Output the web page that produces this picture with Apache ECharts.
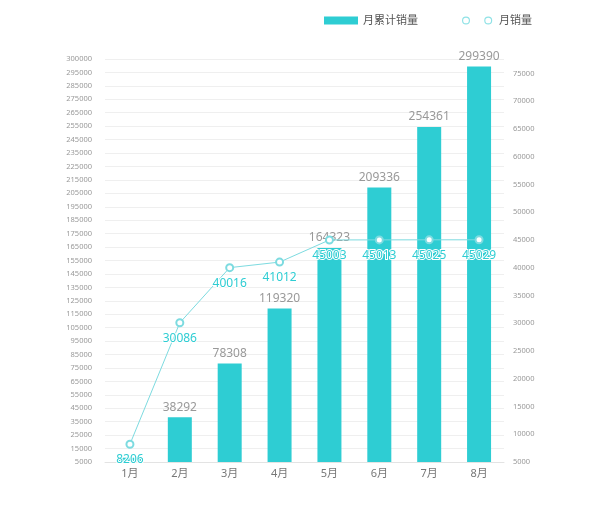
<!DOCTYPE html>
<html>
<head>
<meta charset="utf-8">
<script src="https://cdn.jsdelivr.net/npm/echarts@6/dist/echarts.min.js"></script>
<style>
html,body{margin:0;padding:0;background:#fff;}
#chart{width:600px;height:510px;}
</style>
</head>
<body>
<div id="chart"></div>
<script>
const categories = ['1月', '2月', '3月', '4月', '5月', '6月', '7月', '8月'];
const cumulativeSales = [8206, 38292, 78308, 119320, 164323, 209336, 254361, 299390];
const monthlySales = [8206, 30086, 40016, 41012, 45003, 45013, 45025, 45029];
const seriesNames = ['月累计销量', '月销量'];
// left axis: ticks 5000, 15000 ... 295000, top label 300000
const leftMin = 5000, leftMax = 305000, leftStep = 10000, leftTopLabel = '300000';
// right axis: ticks 5000 ... 75000
const rightMin = 5000, rightMax = 77600, rightStep = 5000;

const barColor = '#2ecdd3';
const lineColor = '#7ddbe0';
const font = '"Noto Sans", "Noto Sans CJK SC", sans-serif';

const twoCircles = 'path://M0,4.5A4.5,4.5 0 1,1 9,4.5A4.5,4.5 0 1,1 0,4.5Z M1.3,4.5A3.2,3.2 0 1,0 7.7,4.5A3.2,3.2 0 1,0 1.3,4.5Z M25,4.5A4.5,4.5 0 1,1 34,4.5A4.5,4.5 0 1,1 25,4.5Z M26.3,4.5A3.2,3.2 0 1,0 32.7,4.5A3.2,3.2 0 1,0 26.3,4.5Z';

// first bar label is covered by the line label in the original
const barData = cumulativeSales.map(function (v, i) {
  return i === 0 ? { value: v, label: { show: false } } : v;
});

const chart = echarts.init(document.getElementById('chart'));
chart.setOption({
  animation: false,
  backgroundColor: '#fff',
  textStyle: { fontFamily: font },
  legend: {
    left: 319,
    top: 10,
    itemWidth: 34,
    itemHeight: 8,
    itemGap: 44,
    textStyle: { color: '#555', fontSize: 11, fontFamily: font },
    data: [
      { name: seriesNames[0], icon: 'rect' },
      { name: seriesNames[1], icon: twoCircles, itemStyle: { color: '#8fe2e6' } }
    ]
  },
  grid: { left: 105, right: 96, top: 59, bottom: 48 },
  xAxis: {
    type: 'category',
    data: categories,
    axisLine: { lineStyle: { color: '#e3e3e3' } },
    axisTick: { show: false },
    axisLabel: { color: '#777', fontSize: 11, margin: 6, fontFamily: font }
  },
  yAxis: [
    {
      type: 'value',
      min: leftMin,
      max: leftMax,
      interval: leftStep,
      axisLine: { show: false },
      axisTick: { show: false },
      splitLine: { lineStyle: { color: '#efefef' } },
      axisLabel: {
        color: '#999', fontSize: 7.5, margin: 13, fontFamily: font,
        formatter: function (v) { return v === leftMax ? leftTopLabel : String(v); }
      }
    },
    {
      type: 'value',
      min: rightMin,
      max: rightMax,
      interval: rightStep,
      axisLine: { show: false },
      axisTick: { show: false },
      splitLine: { show: false },
      axisLabel: {
        color: '#999', fontSize: 7.5, margin: 9, showMaxLabel: false, fontFamily: font,
        formatter: function (v) { return String(v); }
      }
    }
  ],
  series: [
    {
      name: seriesNames[0],
      type: 'bar',
      yAxisIndex: 0,
      data: barData,
      barWidth: 24,
      itemStyle: { color: barColor },
      label: { show: true, position: 'top', distance: 4, color: '#999', fontSize: 12, fontFamily: font }
    },
    {
      name: seriesNames[1],
      type: 'line',
      yAxisIndex: 1,
      data: monthlySales,
      symbol: 'emptyCircle',
      symbolSize: 7,
      z: 5,
      lineStyle: { color: lineColor, width: 1 },
      itemStyle: { color: lineColor },
      label: {
        show: true, position: 'bottom', distance: 5,
        color: barColor, fontSize: 12, fontFamily: font,
        textBorderColor: '#fff', textBorderWidth: 2
      }
    }
  ]
});
</script>
</body>
</html>
